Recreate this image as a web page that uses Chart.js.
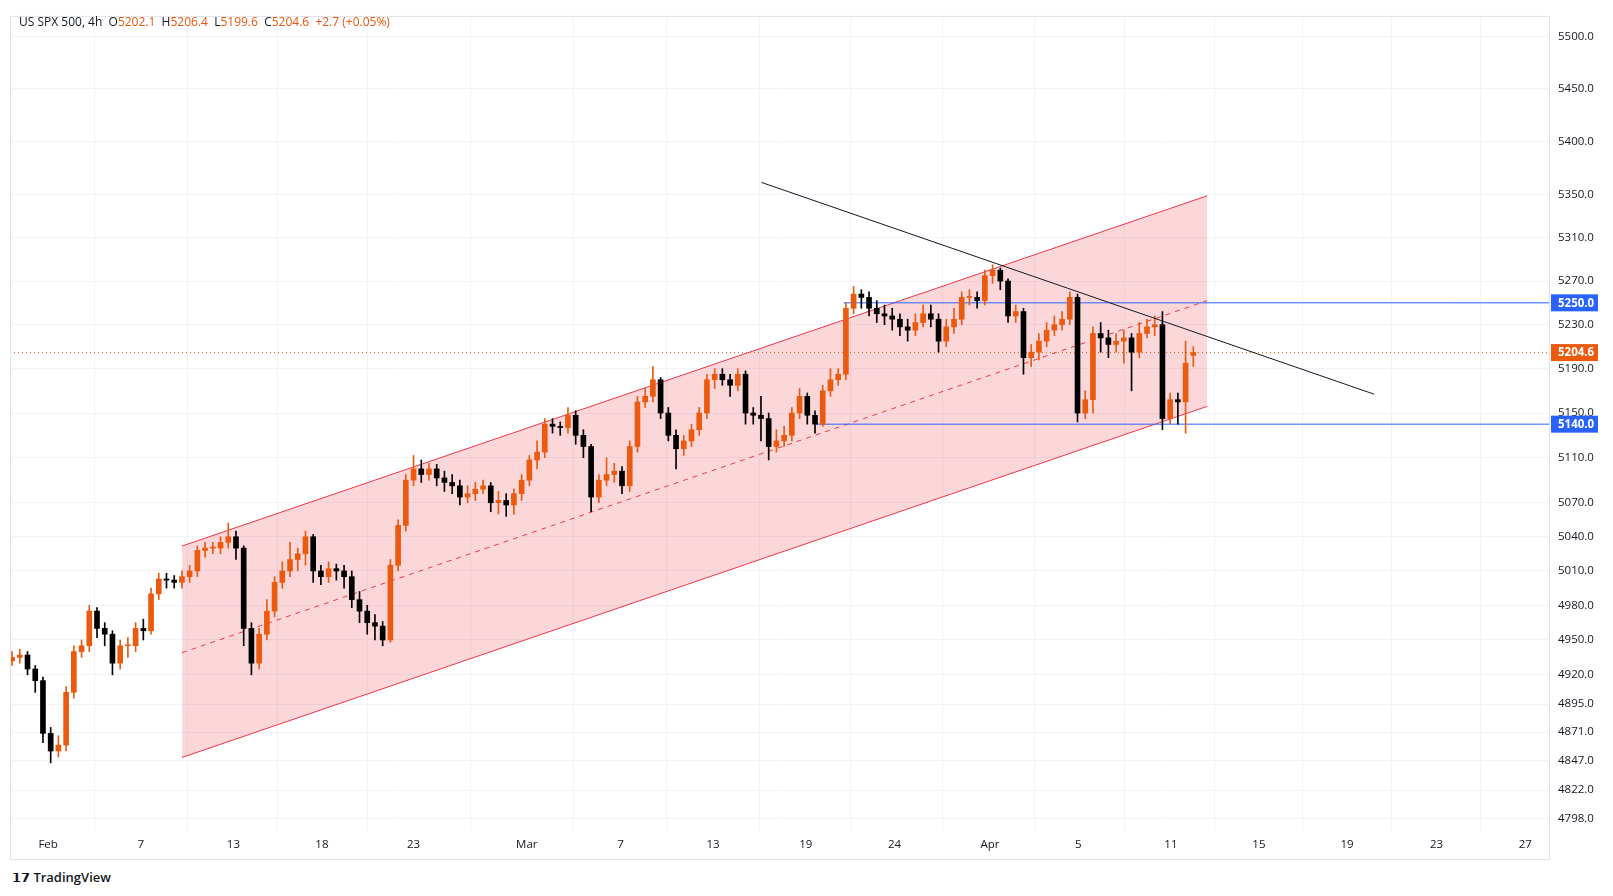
<!DOCTYPE html>
<html><head><meta charset="utf-8">
<script src="https://cdn.jsdelivr.net/npm/chart.js@4.4.1/dist/chart.umd.min.js"></script>
<style>
body{margin:0;background:#fff;font-family:"Open Sans",Roboto,sans-serif;}
#wrap{position:absolute;left:0;top:0;width:1606px;height:860px;}
#title{position:absolute;left:19px;top:13px;font-size:12px;color:#131722;white-space:pre;}
#title .v{color:#e8570c}
#logo{position:absolute;left:12px;top:868px;font-size:13px;color:#131722;font-weight:600}
</style></head><body>
<div id="wrap"><canvas id="c"></canvas></div>
<div id="title">US SPX 500, 4h  O<span class="v">5202.1</span>  H<span class="v">5206.4</span>  L<span class="v">5199.6</span>  C<span class="v">5204.6</span>  <span class="v">+2.7 (+0.05%)</span></div>
<div id="logo">𝟭𝟳 TradingView</div>
<script>
const opens=[4932,4935,4937,4925,4915,4870,4855,4860,4905,4940,4945,4975,4960,4955,4930,4945,4945,4960,4958,4990,5003,5002,5000,5005,5010,5028,5030,5030,5035,5040,5030,4960,4930,4955,4975,5000,5010,5020,5025,5040,5010,5005,5012,5010,5005,4985,4975,4965,4962,4950,5015,5050,5090,5100,5095,5100,5092,5088,5085,5075,5078,5082,5085,5070,5072,5068,5078,5090,5108,5115,5140,5138,5137,5148,5130,5120,5075,5090,5095,5098,5085,5120,5160,5165,5180,5150,5130,5118,5125,5135,5150,5180,5185,5180,5175,5185,5150,5148,5145,5120,5125,5130,5150,5165,5148,5140,5170,5180,5185,5245,5258,5255,5245,5240,5238,5235,5228,5225,5232,5240,5235,5215,5228,5235,5255,5255,5252,5275,5280,5270,5238,5242,5200,5205,5215,5225,5230,5235,5255,5150,5162,5222,5218,5212,5215,5218,5205,5222,5228,5230,5145,5162,5160,5202.1];
const closes=[4935,4937,4925,4915,4870,4855,4860,4905,4940,4945,4975,4960,4955,4930,4945,4945,4960,4958,4990,5003,5002,5000,5005,5010,5028,5030,5030,5035,5040,5030,4960,4930,4955,4975,5000,5010,5020,5025,5040,5010,5005,5012,5010,5005,4985,4975,4965,4962,4950,5015,5050,5090,5100,5095,5100,5092,5088,5085,5075,5078,5082,5085,5070,5072,5068,5078,5090,5108,5115,5140,5138,5137,5148,5130,5120,5075,5090,5095,5098,5085,5120,5160,5165,5180,5150,5130,5118,5125,5135,5150,5180,5185,5180,5175,5185,5150,5148,5145,5120,5125,5130,5150,5165,5148,5140,5170,5180,5185,5245,5258,5255,5245,5240,5238,5235,5228,5225,5232,5240,5235,5215,5228,5235,5255,5255,5252,5275,5280,5270,5238,5242,5200,5205,5215,5225,5230,5235,5255,5150,5162,5222,5218,5212,5215,5218,5205,5222,5228,5230,5145,5162,5160,5195,5204.6];
const highs=[4940,4942,4940,4928,4918,4875,4868,4910,4945,4950,4980,4978,4965,4958,4950,4952,4965,4968,4995,5008,5008,5006,5010,5015,5032,5035,5035,5040,5052,5045,5032,4965,4960,4985,5005,5018,5035,5030,5045,5042,5015,5018,5016,5015,5010,4992,4980,4972,4966,5020,5055,5095,5112,5108,5105,5104,5098,5095,5090,5085,5088,5090,5088,5080,5078,5082,5095,5112,5125,5145,5145,5142,5155,5152,5135,5122,5095,5110,5105,5102,5125,5165,5172,5192,5182,5155,5135,5130,5140,5155,5185,5190,5190,5185,5190,5188,5155,5165,5150,5135,5138,5155,5172,5168,5152,5175,5190,5190,5250,5265,5262,5260,5252,5248,5245,5240,5235,5240,5248,5248,5240,5235,5245,5260,5262,5260,5280,5285,5282,5272,5248,5245,5212,5222,5232,5238,5242,5260,5258,5170,5228,5232,5225,5222,5225,5222,5232,5235,5238,5242,5168,5168,5215,5210];
const lows=[4928,4930,4920,4905,4862,4845,4850,4855,4900,4935,4940,4952,4945,4920,4925,4935,4940,4950,4955,4985,4995,4995,4995,5000,5005,5022,5025,5025,5030,5020,4945,4920,4925,4950,4970,4995,5005,5010,5015,5000,4998,5000,5002,4995,4978,4965,4955,4950,4945,4948,5010,5045,5085,5088,5090,5085,5080,5078,5068,5070,5072,5078,5062,5060,5058,5060,5072,5085,5100,5110,5132,5130,5132,5122,5110,5062,5070,5085,5088,5078,5080,5115,5155,5160,5145,5125,5100,5112,5120,5130,5145,5172,5175,5165,5170,5140,5140,5125,5108,5115,5120,5125,5145,5140,5132,5138,5165,5175,5180,5240,5245,5238,5232,5230,5225,5220,5215,5220,5228,5228,5205,5210,5222,5230,5248,5245,5248,5268,5262,5232,5232,5185,5192,5198,5210,5220,5225,5230,5142,5145,5150,5205,5200,5205,5195,5170,5200,5218,5220,5135,5140,5140,5132,5192];
const firstBar=0, barStep=1;
const tickPos=[4.67,16.67,28.67,40.13,52,66.67,78.8,90.8,102.8,114.3,126.67,138.1,150.1,161.5,172.9,184.5,196];
const tickLabels=["Feb","7","13","18","23","Mar","7","13","19","24","Apr","5","11","15","19","23","27"];
const priceTicks=[5500,5450,5400,5350,5310,5270,5230,5190,5150,5110,5070,5040,5010,4980,4950,4920,4895,4871,4847,4822,4798];
const channelUpper=[{x:22,y:5031.8},{x:154.8,y:5349}];
const channelLower=[{x:22,y:4849.5},{x:154.8,y:5156}];
const channelMid=[{x:22,y:4939},{x:154.8,y:5252}];
const trendLine=[{x:97.07,y:5361.5},{x:176.4,y:5167}];
const resistance=5250.0, support=5140.0, lastPrice=5204.6;
const resistanceStart=107.7, supportStart=104.1;
const xMin=-0.27, xMax=199.07;

const UP='#ec5a0f', DN='#000000';
const idx=closes.map((_,i)=>firstBar+i*barStep);
const cols=closes.map((c,i)=>c>=opens[i]?UP:DN);
const wick=idx.map((x,i)=>({x,y:[lows[i],highs[i]]}));
const body=idx.map((x,i)=>({x,y:[opens[i],closes[i]]}));

const labelPlugin={id:'lbl',afterDraw(ch){
  const ctx=ch.ctx,y=ch.scales.y;
  [[resistance,'#2962ff'],[support,'#2962ff'],[lastPrice,'#ec5a0f']].forEach(([v,c])=>{
    const py=y.getPixelForValue(v);
    ctx.fillStyle=c;ctx.fillRect(ch.chartArea.right+2,py-8.5,47,17);
    ctx.fillStyle='#fff';ctx.font='bold 11.5px "Open Sans"';ctx.textAlign='left';ctx.textBaseline='middle';
    ctx.fillText(v.toFixed(1),ch.chartArea.right+9,py+0.5);
  });
  ctx.strokeStyle='#e0e3eb';ctx.lineWidth=1;
  ctx.strokeRect(ch.chartArea.left+0.5,ch.chartArea.top+0.5,ch.chartArea.right-ch.chartArea.left,ch.chartArea.bottom-ch.chartArea.top+28);
}};

new Chart(document.getElementById('c'),{
  data:{datasets:[
    {type:'line',data:channelUpper,borderColor:'#f23645',borderWidth:1,pointRadius:0,fill:false,order:5},
    {type:'line',data:channelLower,borderColor:'#f23645',borderWidth:1,pointRadius:0,fill:'-1',backgroundColor:'rgba(242,54,69,0.2)',order:5},
    {type:'line',data:channelMid,borderColor:'#f23645',borderWidth:1,borderDash:[5,5],pointRadius:0,fill:false,order:5},
    {type:'line',data:[{x:xMin,y:lastPrice},{x:xMax,y:lastPrice}],borderColor:'#ec5a0f',borderWidth:1,borderDash:[1,3],pointRadius:0,order:4},
    {type:'line',data:[{x:resistanceStart,y:resistance},{x:xMax,y:resistance}],borderColor:'#2962ff',borderWidth:1,pointRadius:0,order:4},
    {type:'line',data:[{x:supportStart,y:support},{x:xMax,y:support}],borderColor:'#2962ff',borderWidth:1,pointRadius:0,order:4},
    {type:'line',data:trendLine,borderColor:'#131722',borderWidth:1,pointRadius:0,order:1},
    {type:'bar',data:wick,backgroundColor:cols,barThickness:1,grouped:false,order:3},
    {type:'bar',data:body,backgroundColor:cols,barThickness:5,minBarLength:1,grouped:false,order:2}
  ]},
  options:{responsive:true,maintainAspectRatio:false,animation:false,
    layout:{padding:{left:10,top:5,right:0,bottom:0}},
    plugins:{legend:{display:false},tooltip:{enabled:false}},
    scales:{
      x:{type:'linear',min:xMin,max:xMax,offset:false,
        afterBuildTicks(s){s.ticks=tickPos.map(v=>({value:v}));},
        afterFit(s){s.height=29;},
        ticks:{autoSkip:false,maxRotation:0,color:'#131722',font:{size:11.5,family:'Open Sans'},padding:7,
          callback(v,i){return tickLabels[i];}},
        grid:{color:'#f0f3fa',drawTicks:false},border:{display:false}},
      y:{type:'logarithmic',position:'right',min:4787.7,max:5519.6,
        afterBuildTicks(s){s.ticks=priceTicks.map(v=>({value:v}));},
        afterFit(s){s.width=57;},
        ticks:{color:'#131722',font:{size:11.5,family:'Open Sans'},padding:9,callback:v=>Number(v).toFixed(1)},
        grid:{color:'#f0f3fa',drawTicks:false},border:{display:false}}
    }},
  plugins:[labelPlugin]
});
</script></body></html>
